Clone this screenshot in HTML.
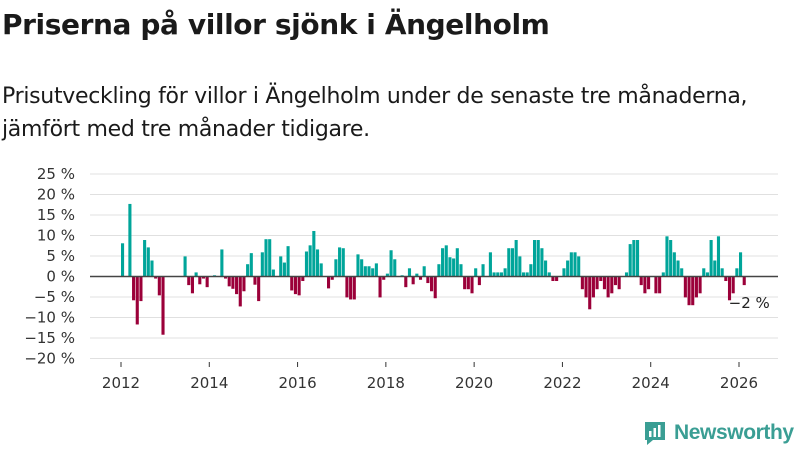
<!DOCTYPE html>
<html><head><meta charset="utf-8"><style>
body{margin:0;width:800px;height:450px;background:#fff;font-family:"Liberation Sans","DejaVu Sans",sans-serif;color:#1a1a1a;overflow:hidden;position:relative}
h1{position:absolute;left:2px;top:8px;margin:0;font-size:28px;font-weight:bold;font-family:"DejaVu Sans","Liberation Sans",sans-serif;letter-spacing:-0.4px}
.sub{position:absolute;left:2px;top:80px;margin:0;font-size:22px;line-height:33px;font-family:"DejaVu Sans","Liberation Sans",sans-serif;letter-spacing:-0.3px}
</style></head><body>
<h1>Priserna på villor sjönk i Ängelholm</h1>
<p class="sub">Prisutveckling för villor i Ängelholm under de senaste tre månaderna,<br>jämfört med tre månader tidigare.</p>
<svg id="chart" width="800" height="450" style="position:absolute;left:0;top:0" font-family="DejaVu Sans, Liberation Sans, sans-serif"></svg>
<script>
const yTicks=[25,20,15,10,5,0,-5,-10,-15,-20];
const yTickLabels=["25 %","20 %","15 %","10 %","5 %","0 %","\u22125 %","\u221210 %","\u221215 %","\u221220 %"];
const xTicks=[2012,2014,2016,2018,2020,2022,2024,2026];
const startYear=2012;
const values=[
8.1,0,17.7,-5.8,-11.7,-6,8.9,7.1,3.9,-0.5,-4.6,-14.2,
0,0,0,0,0,4.9,-2.1,-4.1,1,-1.9,-0.5,-2.6,
0,0.3,0,6.6,-0.5,-2.4,-3,-4.3,-7.3,-3.6,3,5.7,
-2,-6,5.9,9.1,9.1,1.7,0,4.9,3.4,7.4,-3.4,-4.3,
-4.6,-1.1,6.1,7.6,11.1,6.6,3.2,0,-2.9,-0.8,4.2,7.1,
6.9,-5.1,-5.6,-5.6,5.4,4.2,2.5,2.5,2,3.2,-5.1,-0.8,
0.7,6.4,4.2,0,0.3,-2.6,2,-1.9,0.7,-0.8,2.5,-1.6,
-3.6,-5.3,3,6.9,7.6,4.7,4.4,6.9,3,-3.1,-3.1,-4.1,
2,-2.1,3,0,5.9,1,1,1,2,6.9,6.9,8.9,
4.9,1,1,3,8.9,8.9,6.9,3.9,1,-1.1,-1.1,0,
2,3.9,5.9,5.9,4.9,-3.1,-5.1,-8,-5.1,-3.1,-1.1,-3.1,
-5.1,-4.1,-2.1,-3.1,0,1,7.9,8.9,8.9,-2.1,-4.1,-3.1,
0,-4.1,-4.1,1,9.8,8.9,5.9,3.9,2,-5.1,-7,-7,
-5.1,-4.1,2,1,8.9,3.9,9.8,2,-1.1,-5.8,-4.1,2,
5.9,-2.1];
const lastLabel="\u22122 %";

const svg=document.getElementById('chart');
const NS='http://www.w3.org/2000/svg';
const y=v=>276.5-v*4.1;
const x=m=>121+m*(618/168);
function mk(t,a){const e=document.createElementNS(NS,t);for(const k in a)e.setAttribute(k,a[k]);svg.appendChild(e);return e;}
yTicks.forEach((t,i)=>{
 const g=mk('line',{x1:90,x2:778,y1:y(t),y2:y(t),stroke:'#e0e0e0','stroke-width':1});
 
 
 const l=mk('text',{x:75,y:y(t)+5,'text-anchor':'end','font-size':15,fill:'#333'});
 l.textContent=yTickLabels[i];
 
 
});
xTicks.forEach(t=>{
 const xx=x((t-startYear)*12);
 const tk=mk('line',{x1:xx,x2:xx,y1:362,y2:367,stroke:'#333','stroke-width':1});
 
 
 const l=mk('text',{x:xx,y:388,'text-anchor':'middle','font-size':15,fill:'#333'});
 l.textContent=t;
 
 
});
values.forEach((v,m)=>{
 if(v===0)return;
 const b=mk('rect',{x:x(m),width:3.1,y:Math.min(y(v),y(0)),height:Math.abs(y(v)-y(0)),fill:v>0?'#00a59a':'#9b0039'});
 
 
});
const z=mk('line',{x1:90,x2:778,y1:y(0),y2:y(0),stroke:'#444','stroke-width':1.6});


const lm=values.length-1;
const ll=mk('text',{x:x(lm)-14,y:308,'font-size':15,fill:'#222'});
ll.textContent=lastLabel;


</script>
<div style="position:absolute;left:643px;top:420px;display:flex;align-items:center">
<svg width="24" height="26" viewBox="0 0 24 26"><path d="M2 2h20v18H10l-6 5v-5H2z" fill="#3a9e94"/><rect x="6" y="11" width="2.5" height="6" fill="#fff"/><rect x="10.5" y="8" width="2.5" height="9" fill="#fff"/><rect x="15" y="5" width="2.5" height="12" fill="#fff"/></svg>
<span style="margin-left:7px;font-size:21px;font-weight:bold;color:#3a9e94;font-family:'Liberation Sans',sans-serif;letter-spacing:-0.4px">Newsworthy</span>
</div>
</body></html>
